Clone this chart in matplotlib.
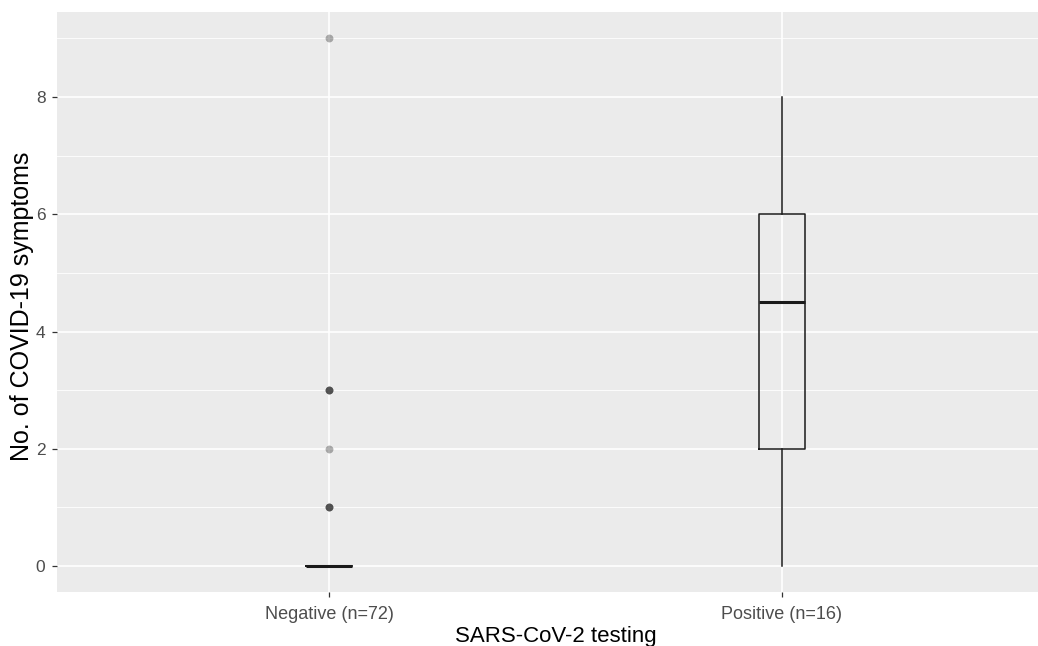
import matplotlib
matplotlib.use("Agg")
import matplotlib.pyplot as plt

categories = ["Negative (n=72)", "Positive (n=16)"]
# boxplot summary values (lower whisker, Q1, median, Q3, upper whisker)
whisker_low = [0, 0]
q1 = [0, 2]
median = [0, 4.5]
q3 = [0, 6]
whisker_high = [0, 8]
# outlier values (repeated values overlap, giving darker dots)
outliers = [[1, 1, 1, 2, 3, 3, 3, 9], []]

plt.rcParams["font.family"] = ["Liberation Sans", "DejaVu Sans"]

W, H = 1038, 646
fig = plt.figure(figsize=(W / 100, H / 100), dpi=100)
ax = fig.add_axes([57.2 / W, (H - 592.4) / H, 996.6 / W, 580.4 / H])
ax.set_facecolor("#EBEBEB")

stats = []
for i, c in enumerate(categories):
    stats.append(dict(label=c, whislo=whisker_low[i], q1=q1[i], med=median[i],
                      q3=q3[i], whishi=whisker_high[i], fliers=[]))
pos = list(range(1, len(categories) + 1))
ax.bxp(stats, positions=pos, widths=0.1, showfliers=False, showcaps=False,
       boxprops=dict(color="#1a1a1a", linewidth=1.1),
       whiskerprops=dict(color="#1a1a1a", linewidth=1.1),
       medianprops=dict(color="#1a1a1a", linewidth=2.2, solid_capstyle="butt"),
       manage_ticks=False, zorder=3)

for p, vals in zip(pos, outliers):
    if vals:
        ax.scatter([p] * len(vals), vals, s=32, color="black", alpha=0.3,
                   linewidths=0, zorder=4)

ax.set_xlim(0.4, 2.6)
ax.set_ylim(-0.45, 9.45)
ax.set_xticks(pos)
ax.set_xticklabels(categories)
ax.set_yticks([0, 2, 4, 6, 8])
ax.set_yticks([1, 3, 5, 7, 9], minor=True)

ax.grid(which="major", color="white", linewidth=1.2)
ax.grid(which="minor", axis="y", color="white", linewidth=0.6)
ax.set_axisbelow(True)
for s in ax.spines.values():
    s.set_visible(False)

ax.tick_params(axis="both", which="major", length=3.5, width=0.9, color="#333333",
               labelcolor="#4D4D4D", labelsize=12.5)
ax.tick_params(axis="x", which="major", pad=6, labelsize=13)
ax.tick_params(axis="y", which="major", pad=5)
ax.tick_params(axis="y", which="minor", length=0)

fig.text(555.5 / W, (H - 642) / H, "SARS-CoV-2 testing", fontsize=16,
         color="black", ha="center", va="baseline")
fig.text(22 / W, (H - 306) / H, "No. of COVID-19 symptoms", fontsize=18,
         color="black", ha="center", va="center", rotation=90)

fig.savefig("out.png", dpi=100)
